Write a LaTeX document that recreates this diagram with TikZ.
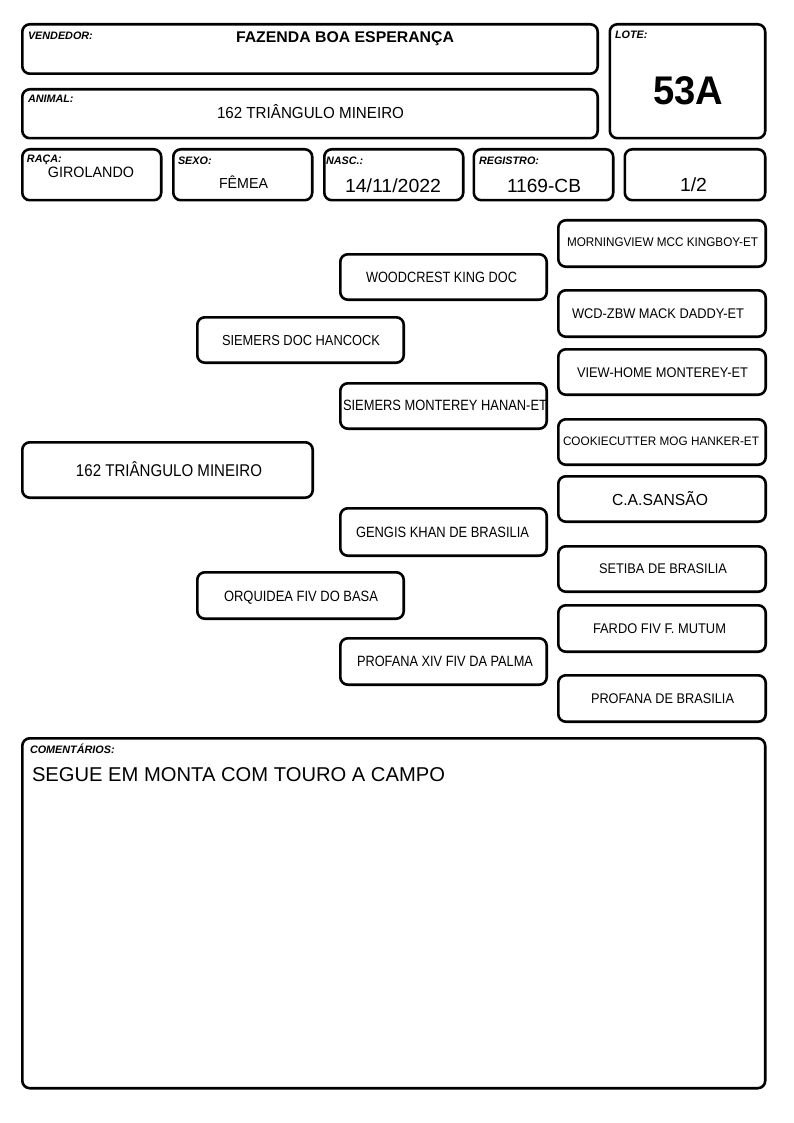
\documentclass[tikz,border=0pt]{standalone}
\usepackage{fontspec}
\usepackage{graphicx}
\setmainfont{Liberation Sans}
\newcommand\ptx[3]{\resizebox{#1pt}{\height}{\fontsize{#2}{#2}\selectfont #3}}
\newcommand\mkbox[5]{\node[fbox, minimum width={#4-#2-2.6}, minimum height={#5-#3-2.6}] (#1) at ({(#2+#4)/2},{(#3+#5)/2}) {};}
\tikzset{
  fbox/.style={draw=black, line width=2.6pt, rounded corners=7.5pt, inner sep=0pt, fill=white},
  txt/.style={inner sep=0pt, outer sep=0pt, anchor=base},
  lbl/.style={inner sep=0pt, outer sep=0pt, anchor=base west, font=\fontsize{10.8}{12}\selectfont\bfseries\itshape}
}
\begin{document}
\begin{tikzpicture}[x=1pt,y=-1pt]
\useasboundingbox[fill=white] (0,0) rectangle (794,1123);
% header boxes
\mkbox{vend}{21}{23}{599}{75}
\mkbox{lote}{608.5}{23}{766.5}{139.5}
\mkbox{anim}{21}{88}{599}{139.5}
\mkbox{raca}{21}{148}{162.5}{201.5}
\mkbox{sexo}{172}{148}{313.5}{201.5}
\mkbox{nasc}{323}{148}{464.5}{201.5}
\mkbox{reg}{472.5}{148}{614.5}{201.5}
\mkbox{frac}{623.5}{148}{766.5}{201.5}
\mkbox{com}{21}{737}{766.5}{1089.5}
% labels
\node[lbl] (lvend) at (28,39.5) {VENDEDOR:};
\node[lbl] (lanim) at (28,103) {ANIMAL:};
\node[lbl] (llote) at (615,38.5) {LOTE:};
\node[lbl] (lraca) at (27,162.5) {RAÇA:};
\node[lbl] (lsexo) at (178,165) {SEXO:};
\node[lbl] (lnasc) at (326,165) {NASC.:};
\node[lbl] (lreg) at (479,165) {REGISTRO:};
\node[lbl] (lcom) at (30,753.5) {COMENTÁRIOS:};
% values
\node[txt] (tvend) at (345,43) {\ptx{218}{15.5}{\bfseries FAZENDA BOA ESPERANÇA}};
\node[txt] (tanim) at (310.5,119) {\ptx{187}{16}{162 TRIÂNGULO MINEIRO}};
\node[txt] (tlote) at (688,105) {\ptx{70}{40}{\bfseries 53A}};
\node[txt] (traca) at (91,178) {\ptx{86}{15}{GIROLANDO}};
\node[txt] (tsexo) at (243.5,189) {\ptx{49}{14.5}{FÊMEA}};
\node[txt] (tnasc) at (393,193) {\ptx{96}{19}{14/11/2022}};
\node[txt] (treg) at (544,193) {\ptx{74}{19}{1169-CB}};
\node[txt] (tfrac) at (693.5,192) {\ptx{27}{19}{1/2}};
\node[txt, anchor=base west] (tcom) at (32,781) {\ptx{413}{20}{SEGUE EM MONTA COM TOURO A CAMPO}};
% pedigree boxes
\mkbox{p0}{21}{441}{314}{499}
\mkbox{ps}{196}{316}{405}{364}
\mkbox{pd}{196}{571}{405}{620}
\mkbox{pss}{339}{253}{548}{301}
\mkbox{psd}{339}{382}{548}{430}
\mkbox{pds}{339}{507}{548}{557}
\mkbox{pdd}{339}{637}{548}{686}
\mkbox{psss}{557}{219}{767}{268}
\mkbox{pssd}{557}{289}{767}{338}
\mkbox{psds}{557}{348}{767}{396}
\mkbox{psdd}{557}{418}{767}{466}
\mkbox{pdss}{557}{475}{767}{523}
\mkbox{pdsd}{557}{545}{767}{593}
\mkbox{pdds}{557}{604}{767}{653}
\mkbox{pddd}{557}{674}{767}{723}
% pedigree texts
\node[txt] (tp0) at (169,476.5) {\ptx{186}{17}{162 TRIÂNGULO MINEIRO}};
\node[txt] (tps) at (301,345) {\ptx{158}{14.5}{SIEMERS DOC HANCOCK}};
\node[txt] (tpd) at (301,601) {\ptx{154}{14.9}{ORQUIDEA FIV DO BASA}};
\node[txt] (tpss) at (441.5,282) {\ptx{151}{14.9}{WOODCREST KING DOC}};
\node[txt] (tpsd) at (445,410) {\ptx{204}{14.9}{SIEMERS MONTEREY HANAN-ET}};
\node[txt] (tpds) at (442.5,537) {\ptx{173}{14.9}{GENGIS KHAN DE BRASILIA}};
\node[txt] (tpdd) at (445,666) {\ptx{176}{14.9}{PROFANA XIV FIV DA PALMA}};
\node[txt] (tpsss) at (662.5,247) {\ptx{191}{12.6}{MORNINGVIEW MCC KINGBOY-ET}};
\node[txt] (tpssd) at (658,318) {\ptx{172}{14}{WCD-ZBW MACK DADDY-ET}};
\node[txt] (tpsds) at (662.5,377) {\ptx{171}{14}{VIEW-HOME MONTEREY-ET}};
\node[txt] (tpsdd) at (661,445.5) {\ptx{196}{12.3}{COOKIECUTTER MOG HANKER-ET}};
\node[txt] (tpdss) at (660,505.5) {\ptx{96}{16}{C.A.SANSÃO}};
\node[txt] (tpdsd) at (663,573) {\ptx{128}{14}{SETIBA DE BRASILIA}};
\node[txt] (tpdds) at (659.5,633) {\ptx{133}{14}{FARDO FIV F. MUTUM}};
\node[txt] (tpddd) at (662.5,703) {\ptx{143}{14}{PROFANA DE BRASILIA}};
\end{tikzpicture}
\end{document}
